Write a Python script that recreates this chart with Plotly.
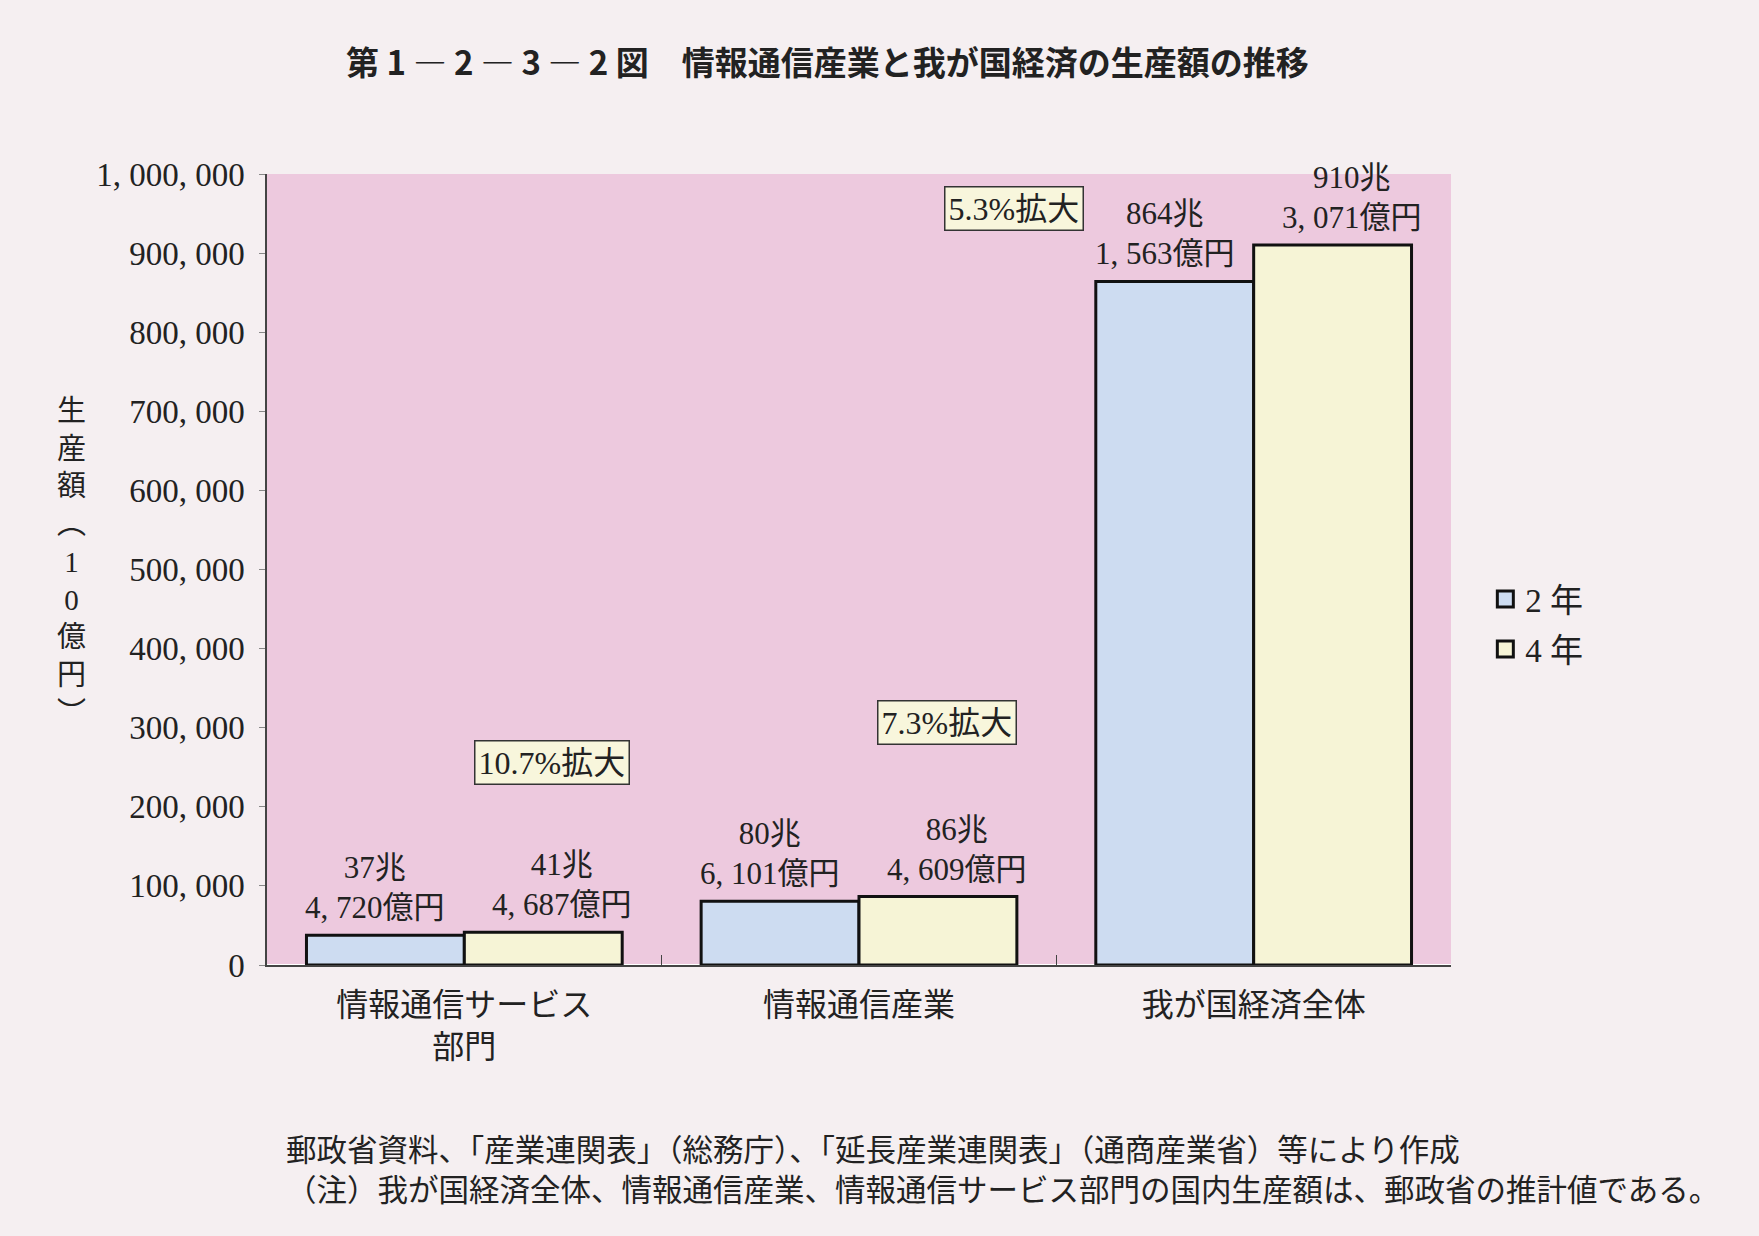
import plotly.graph_objects as go

# ---- data ----
categories = ["情報通信サービス<br>部門", "情報通信産業", "我が国経済全体"]
series_names = ["2 年", "4 年"]
values_y2 = [37472, 80610, 864156]
values_y4 = [41469, 86461, 910307]
labels_y2 = ["37兆<br>4, 720億円", "80兆<br>6, 101億円", "864兆<br>1, 563億円"]
labels_y4 = ["41兆<br>4, 687億円", "86兆<br>4, 609億円", "910兆<br>3, 071億円"]
growth_labels = ["10.7%拡大", "7.3%拡大", "5.3%拡大"]
tick_vals = [0, 100000, 200000, 300000, 400000, 500000, 600000, 700000, 800000, 900000, 1000000]
tick_text = ["0", "100, 000", "200, 000", "300, 000", "400, 000", "500, 000",
             "600, 000", "700, 000", "800, 000", "900, 000", "1, 000, 000"]

FONT = "Liberation Serif, Noto Sans CJK JP, serif"
CJK = "Noto Sans CJK JP, sans-serif"
INK = "#222222"

W, H = 1759, 1236
L, R, T, B = 267, 308, 174, 271
PW, PH = W - L - R, H - T - B
CAT_W = PW / len(categories)
BAR_OFF = 0.2 * CAT_W


def px(x):
    return (x - L) / PW


def py(y):
    return (H - B - y) / PH


fig = go.Figure()
fig.add_trace(go.Bar(
    x=categories, y=values_y2, name=series_names[0], showlegend=False,
    marker=dict(color="#cddcf1", line=dict(color="#111111", width=3)),
))
fig.add_trace(go.Bar(
    x=categories, y=values_y4, name=series_names[1], showlegend=False,
    marker=dict(color="#f6f4d6", line=dict(color="#111111", width=3)),
))
# legend entries with larger square swatches
for nm, col, grp in [(series_names[0], "#cddcf1", "a"), (series_names[1], "#f6f4d6", "b")]:
    fig.add_trace(go.Scatter(
        x=[None], y=[None], mode="markers", name=nm, legendgroup=grp,
        marker=dict(symbol="square", size=18, color=col, line=dict(color="#111111", width=3)),
    ))

# value labels above bars
for cat, v2, v4, t2, t4 in zip(categories, values_y2, values_y4, labels_y2, labels_y4):
    for v, t, sh in [(v2, t2, -BAR_OFF - 10), (v4, t4, BAR_OFF + 19)]:
        fig.add_annotation(
            x=cat, y=v, xref="x", yref="y", text=t, showarrow=False,
            xanchor="center", yanchor="bottom", xshift=sh, yshift=8,
            font=dict(family=FONT, size=31, color=INK),
        )

# growth boxes (positions in paper coordinates)
box_pos = [(552, 762), (947, 722), (1014, 209)]
for lab, (bx, by) in zip(growth_labels, box_pos):
    fig.add_annotation(
        x=px(bx), y=py(by), xref="paper", yref="paper", text=lab, showarrow=False,
        xanchor="center", yanchor="middle",
        font=dict(family=FONT, size=32, color=INK),
        bgcolor="#f8f6dc", bordercolor="#333333", borderwidth=1.5, borderpad=3,
    )

# title
fig.add_annotation(
    x=px(827), y=py(61), xref="paper", yref="paper", showarrow=False,
    xanchor="center", yanchor="middle",
    text="<b>第 1 ― 2 ― 3 ― 2 図　情報通信産業と我が国経済の生産額の推移</b>",
    font=dict(family=CJK, size=33, color=INK),
)

# y axis title (vertical)
ytitle = "<br>".join(["生", "産", "額", "︵", "1", "0", "億", "円", "︶"])
fig.add_annotation(
    x=px(71), y=py(562), xref="paper", yref="paper", showarrow=False,
    xanchor="center", yanchor="middle",
    text=ytitle, font=dict(family=FONT, size=29, color=INK),
)

# footnotes
fig.add_annotation(
    x=px(284), y=py(1168), xref="paper", yref="paper", showarrow=False,
    xanchor="left", yanchor="middle", align="left",
    text=("郵政省資料、「産業連関表」（総務庁）、「延長産業連関表」（通商産業省）等により作成<br>"
          "（注）我が国経済全体、情報通信産業、情報通信サービス部門の国内生産額は、郵政省の推計値である。"),
    font=dict(family=CJK, size=30.5, color=INK),
)

fig.update_layout(
    width=W, height=H,
    margin=dict(l=L, r=R, t=T, b=B),
    paper_bgcolor="#f5eff1",
    plot_bgcolor="#edc9de",
    barmode="group", bargap=0.2, bargroupgap=0,
    font=dict(family=FONT, size=28, color=INK),
    showlegend=True,
    legend=dict(x=1.029, y=0.431, xanchor="left", yanchor="middle",
                bgcolor="rgba(0,0,0,0)", font=dict(family=FONT, size=33, color=INK),
                tracegroupgap=4, itemwidth=30),
)
fig.update_xaxes(
    showgrid=False, showline=True, linecolor="#444444", linewidth=1.5,
    ticks="inside", tickson="boundaries", ticklen=10, tickcolor="#444444",
    tickfont=dict(family=FONT, size=32, color=INK),
    ticklabelstandoff=11,
)
fig.update_yaxes(
    range=[0, 1000000], tickvals=tick_vals, ticktext=tick_text,
    showgrid=False, showline=True, linecolor="#444444", linewidth=1.5,
    ticks="outside", ticklen=6, tickcolor="#888888",
    tickfont=dict(family=FONT, size=33, color=INK),
    ticklabelstandoff=8,
)

fig.write_html(
    "out.html",
    config={"displayModeBar": False},
    post_script="document.body.style.margin='0';document.body.style.background='#f5eff1';",
)
